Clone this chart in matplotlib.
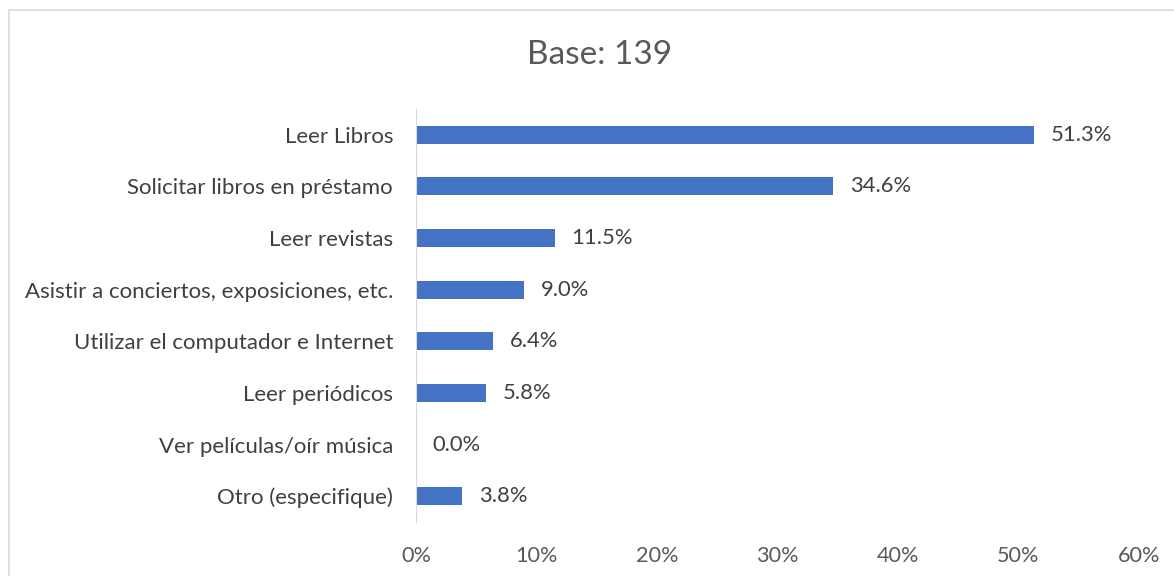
import matplotlib.pyplot as plt
from matplotlib.patches import Rectangle

# categories top to bottom, values in percent
categories = ['Leer Libros', 'Solicitar libros en préstamo', 'Leer revistas',
              'Asistir a conciertos, exposiciones, etc.', 'Utilizar el computador e Internet',
              'Leer periódicos', 'Ver películas/oír música', 'Otro (especifique)']
values = [51.3, 34.6, 11.5, 9.0, 6.4, 5.8, 0.0, 3.8]
xticks = [0, 10, 20, 30, 40, 50, 60]
title = 'Base: 139'

plt.rcParams['font.family'] = ['Lato', 'DejaVu Sans']

fig = plt.figure(figsize=(11.74, 5.76), dpi=100)
# chart border
fig.patches.append(Rectangle((9 / 1174, -0.01), 1.0, 1 - 10 / 576 + 0.01, transform=fig.transFigure,
                             fill=False, edgecolor='#d9d9d9', linewidth=1.2))

ax = fig.add_axes([416 / 1174, 1 - 522 / 576, 723 / 1174, 413 / 576])
ys = list(range(len(categories)))
ax.barh(ys, values, height=0.35, color='#4472C4')
for y, v in zip(ys, values):
    ax.text(v + 1.4, y, f'{v:.1f}%', va='center', ha='left', fontsize=15.8, color='#404040')

ax.set_xlim(0, 60)
ax.set_ylim(len(categories) - 0.5, -0.5)
ax.set_yticks(ys)
ax.set_yticklabels(categories, fontsize=16, color='#404040')
ax.set_xticks(xticks)
ax.set_xticklabels([f'{t}%' for t in xticks], fontsize=15.6, color='#595959')
ax.tick_params(axis='both', length=0)
ax.tick_params(axis='x', pad=17)
ax.tick_params(axis='y', pad=16.5)
for s in ['top', 'right', 'bottom']:
    ax.spines[s].set_visible(False)
ax.spines['left'].set_color('#d9d9d9')

fig.text(600 / 1174, 1 - 55 / 576, title, ha='center', va='center', fontsize=24, color='#595959')

fig.savefig('out.png', dpi=100)
